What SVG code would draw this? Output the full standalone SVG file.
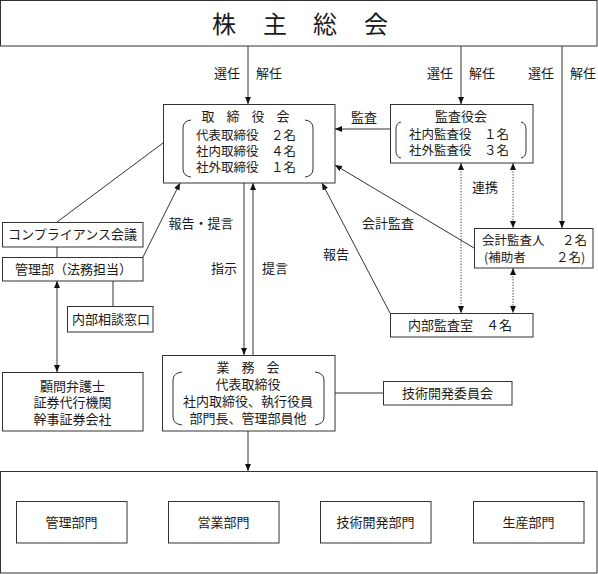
<svg xmlns="http://www.w3.org/2000/svg" width="598" height="574" viewBox="0 0 598 574">
<style>
text{font-family:"Noto Sans CJK JP","Noto Sans CJK SC",sans-serif;font-size:13px;fill:#1a1a1a}
.s{font-size:12.5px}
.box{fill:#fff;stroke:#333;stroke-width:1}
.ln{fill:none;stroke:#333;stroke-width:1}
.dot{fill:none;stroke:#333;stroke-width:1;stroke-dasharray:1.2 1.6}
.br{fill:none;stroke:#333;stroke-width:1}
.m{text-anchor:middle}
.e{text-anchor:end}
</style>
<defs>
<marker id="a" viewBox="0 0 7 6" markerWidth="7" markerHeight="6" refX="7" refY="3" orient="auto-start-reverse" markerUnits="userSpaceOnUse"><path d="M0,0 L7,3 L0,6 z" fill="#111"/></marker>
</defs>
<rect x="0" y="0" width="598" height="574" fill="#fff"/>

<g id="connectors">
<path class="ln" d="M248,46 V104" marker-end="url(#a)"/>
<path class="ln" d="M461,46 V104" marker-end="url(#a)"/>
<path class="ln" d="M562,46 V228" marker-end="url(#a)"/>
<path class="ln" d="M390,129 H335" marker-end="url(#a)"/>
<path class="dot" d="M461,163 V313" marker-start="url(#a)" marker-end="url(#a)"/>
<path class="dot" d="M513,163 V228" marker-start="url(#a)" marker-end="url(#a)"/>
<path class="dot" d="M513,268 V313" marker-start="url(#a)" marker-end="url(#a)"/>
<path class="ln" d="M474,248 L335,165" marker-end="url(#a)"/>
<path class="ln" d="M390,313 L322,183" marker-end="url(#a)"/>
<path class="ln" d="M244,183 V355" marker-end="url(#a)"/>
<path class="ln" d="M253,355 V183" marker-end="url(#a)"/>
<path class="ln" d="M143,257 L180,183" marker-end="url(#a)"/>
<path class="ln" d="M57,222 L163,143"/>
<path class="ln" d="M57,247 V257"/>
<path class="ln" d="M113,281 V306"/>
<path class="ln" d="M57,281 V372" marker-start="url(#a)" marker-end="url(#a)"/>
<path class="ln" d="M335,393 H383"/>
<path class="ln" d="M248,431 V471" marker-end="url(#a)"/>
<text class="e" x="240" y="78">選任</text>
<text x="256" y="78">解任</text>
<text class="e" x="453" y="78">選任</text>
<text x="469" y="78">解任</text>
<text class="e" x="554" y="78">選任</text>
<text x="570" y="78">解任</text>
<text class="m" x="364" y="122">監査</text>
<text class="m" x="485" y="192">連携</text>
<text class="m" x="201" y="228">報告・提言</text>
<text class="m" x="224" y="273">指示</text>
<text class="m" x="275" y="273">提言</text>
<text class="m" x="336" y="259">報告</text>
<text class="m" x="388" y="228">会計監査</text>
</g>

<g id="shareholders">
<rect class="box" x="0.5" y="0.5" width="596.5" height="45.5"/>
<text class="m" style="font-size:24px" x="224 275 325 376" y="33">株主総会</text>
</g>

<g id="board">
<rect class="box" x="163.5" y="104.5" width="171.5" height="78.5"/>
<text class="m" x="208 233 258 283" y="121">取締役会</text>
<path class="br" d="M191,120 Q183,121 183,128 V169 Q183,176 191,177"/>
<path class="br" d="M305,120 Q313,121 313,128 V169 Q313,176 305,177"/>
<text class="s" x="196" y="140">代表取締役　２名</text>
<text class="s" x="196" y="156">社内取締役　４名</text>
<text class="s" x="196" y="172">社外取締役　１名</text>
</g>

<g id="audit-board">
<rect class="box" x="390.5" y="104.5" width="142.5" height="58.5"/>
<text class="m" x="461" y="121">監査役会</text>
<path class="br" d="M401,122 Q396,123 396,129 V151 Q396,157 401,158"/>
<path class="br" d="M521,122 Q526,123 526,129 V151 Q526,157 521,158"/>
<text class="s" x="409" y="139">社内監査役　１名</text>
<text class="s" x="409" y="155">社外監査役　３名</text>
</g>

<g id="accounting-auditor">
<rect class="box" x="474.5" y="228.5" width="118.5" height="39.5"/>
<text class="s" x="482" y="245">会計監査人</text>
<text class="s" x="562" y="245">２名</text>
<text class="s" x="484" y="262">(補助者</text>
<text class="s" x="556" y="262">２名)</text>
</g>

<g id="internal-audit">
<rect class="box" x="390.5" y="313.5" width="142.5" height="23.5"/>
<text x="408" y="330">内部監査室　４名</text>
</g>

<g id="compliance">
<rect class="box" x="2.5" y="222.5" width="140.5" height="24.5"/>
<text class="m" x="72.5" y="239">コンプライアンス会議</text>
</g>

<g id="admin">
<rect class="box" x="2.5" y="257.5" width="140.5" height="23.5"/>
<text x="15" y="274">管理部（法務担当）</text>
</g>

<g id="consultation">
<rect class="box" x="67.5" y="306.5" width="85.5" height="25.5"/>
<text class="m" x="111" y="324">内部相談窓口</text>
</g>

<g id="advisors">
<rect class="box" x="2.5" y="372.5" width="140.5" height="58.5"/>
<text class="m" x="72.5" y="391">顧問弁護士</text>
<text class="m" x="72.5" y="407">証券代行機関</text>
<text class="m" x="72.5" y="424">幹事証券会社</text>
</g>

<g id="business-council">
<rect class="box" x="162.5" y="355.5" width="172.5" height="75.5"/>
<text class="m" x="223 248 273" y="372">業務会</text>
<path class="br" d="M182,372 Q173,373 173,380 V417 Q173,424 182,425"/>
<path class="br" d="M315,372 Q324,373 324,380 V417 Q324,424 315,425"/>
<text class="m" x="248" y="389">代表取締役</text>
<text class="m" x="248" y="406">社内取締役、執行役員</text>
<text class="m" x="248" y="423">部門長、管理部員他</text>
</g>

<g id="tech-committee">
<rect class="box" x="383.5" y="381.5" width="128.5" height="23.5"/>
<text class="m" x="447.5" y="398">技術開発委員会</text>
</g>

<g id="departments">
<rect class="box" x="0.5" y="471.5" width="596.5" height="101.5"/>
</g>
<g id="dept-admin">
<rect class="box" x="16.5" y="501.5" width="110.5" height="41.5"/>
<text class="m" x="71.5" y="527">管理部門</text>
</g>
<g id="dept-sales">
<rect class="box" x="168.5" y="501.5" width="110.5" height="41.5"/>
<text class="m" x="223.5" y="527">営業部門</text>
</g>
<g id="dept-rd">
<rect class="box" x="320.5" y="501.5" width="110.5" height="41.5"/>
<text class="m" x="375.5" y="527">技術開発部門</text>
</g>
<g id="dept-production">
<rect class="box" x="473.5" y="501.5" width="110.5" height="41.5"/>
<text class="m" x="528.5" y="527">生産部門</text>
</g>
</svg>
